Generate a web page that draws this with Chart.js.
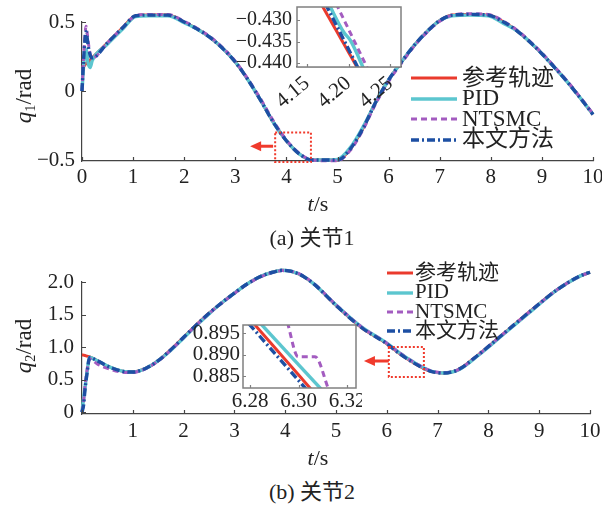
<!DOCTYPE html>
<html><head><meta charset="utf-8">
<script src="https://cdn.jsdelivr.net/npm/chart.js@4.4.1/dist/chart.umd.min.js"></script>
<style>
body{margin:0;background:#fff;width:602px;height:505px;position:relative;overflow:hidden;font-family:"Liberation Serif","Noto Sans CJK SC",serif;color:#222}
.cv{position:absolute}
.lbl{position:absolute;white-space:nowrap;line-height:1}
.rot{transform:translate(-50%,-50%) rotate(-90deg)}
.ctr{transform:translate(-50%,-50%)}
sub{font-size:0.62em;vertical-align:baseline;position:relative;top:0.28em}
.leg{position:absolute;white-space:nowrap;line-height:1}
.pre{position:absolute;left:-200px;top:-200px;font-size:21px}
</style></head><body>
<span class="pre">0.5 −0.430 6.28</span>
<canvas id="c1" class="cv" style="left:0;top:0" width="602" height="195"></canvas>
<canvas id="c2" class="cv" style="left:0;top:250px" width="602" height="195"></canvas>
<canvas id="i1" class="cv" style="left:217px;top:0" width="190" height="115"></canvas>
<canvas id="i2" class="cv" style="left:183px;top:315px" width="179" height="95"></canvas>
<div class="lbl rot" style="left:23px;top:96px;font-size:23px"><i>q</i><sub>1</sub>/rad</div>
<div class="lbl rot" style="left:23px;top:346px;font-size:23px"><i>q</i><sub>2</sub>/rad</div>
<div class="lbl ctr" style="left:318px;top:204px;font-size:22px"><i>t</i>/s</div>
<div class="lbl ctr" style="left:318px;top:458px;font-size:22px"><i>t</i>/s</div>
<div class="lbl ctr" style="left:312px;top:238px;font-size:22px">(a) 关节1</div>
<div class="lbl ctr" style="left:312px;top:492px;font-size:22px">(b) 关节2</div>
<div id="leg1"></div><div id="leg2"></div>
<script>
// ---------- data ----------
const seriesNames = ['参考轨迹', 'PID', 'NTSMC', '本文方法'];

// joint 1 (time in s, angle in rad)
const t1 = [0, 0.04, 0.08, 0.12, 0.16, 0.2, 0.5, 0.8, 1.05, 1.3, 1.68, 2.0, 2.25, 2.5, 2.75, 3.0, 3.25, 3.5, 3.75, 4.0, 4.25, 4.5, 4.75, 5.0, 5.25, 5.5, 5.75, 6.0, 6.25, 6.5, 6.75, 7.0, 7.25, 7.6, 7.95, 8.25, 8.5, 8.75, 9.0, 9.25, 9.5, 9.75, 10];
const q1Ref   = [0.17, 0.18, 0.20, 0.21, 0.225, 0.24, 0.35, 0.46, 0.545, 0.55, 0.55, 0.50, 0.45, 0.39, 0.31, 0.21, 0.08, -0.07, -0.23, -0.36, -0.455, -0.50, -0.50, -0.50, -0.42, -0.27, -0.08, 0.08, 0.21, 0.33, 0.43, 0.51, 0.55, 0.555, 0.55, 0.50, 0.44, 0.36, 0.27, 0.17, 0.065, -0.05, -0.17];
const q1Pid   = [0.0, 0.22, 0.30, 0.20, 0.17, 0.22, 0.34, 0.45, 0.54, 0.545, 0.545, 0.495, 0.45, 0.39, 0.31, 0.21, 0.08, -0.07, -0.23, -0.36, -0.455, -0.50, -0.50, -0.495, -0.41, -0.26, -0.08, 0.08, 0.21, 0.33, 0.43, 0.51, 0.545, 0.55, 0.545, 0.49, 0.44, 0.36, 0.27, 0.17, 0.065, -0.05, -0.17];
const q1Ntsmc = [0.0, 0.30, 0.47, 0.36, 0.27, 0.24, 0.35, 0.46, 0.545, 0.555, 0.555, 0.505, 0.455, 0.395, 0.315, 0.215, 0.085, -0.06, -0.22, -0.355, -0.45, -0.50, -0.505, -0.505, -0.43, -0.28, -0.09, 0.07, 0.20, 0.325, 0.425, 0.505, 0.55, 0.56, 0.555, 0.505, 0.445, 0.365, 0.275, 0.175, 0.07, -0.045, -0.165];
const q1Ours  = [0.0, 0.28, 0.43, 0.33, 0.26, 0.24, 0.35, 0.46, 0.545, 0.55, 0.55, 0.50, 0.45, 0.39, 0.31, 0.21, 0.08, -0.07, -0.23, -0.36, -0.455, -0.50, -0.50, -0.50, -0.42, -0.27, -0.08, 0.08, 0.21, 0.33, 0.43, 0.51, 0.55, 0.555, 0.55, 0.50, 0.44, 0.36, 0.27, 0.17, 0.065, -0.05, -0.17];

// joint 2
const t2 = [0, 0.03, 0.06, 0.1, 0.15, 0.3, 0.55, 0.85, 1.0, 1.25, 1.5, 1.75, 2.0, 2.25, 2.5, 2.75, 3.0, 3.25, 3.5, 3.75, 3.95, 4.25, 4.55, 5.0, 5.5, 6.0, 6.25, 6.5, 6.85, 7.1, 7.4, 7.8, 8.35, 8.9, 9.35, 9.8, 10];
const q2Ref   = [0.88, 0.875, 0.87, 0.86, 0.85, 0.79, 0.69, 0.62, 0.615, 0.67, 0.79, 0.96, 1.15, 1.34, 1.52, 1.68, 1.83, 1.97, 2.08, 2.15, 2.18, 2.13, 1.98, 1.64, 1.30, 1.05, 0.90, 0.77, 0.63, 0.60, 0.65, 0.88, 1.24, 1.60, 1.88, 2.09, 2.15];
const q2Pid   = [0.0, 0.20, 0.38, 0.62, 0.84, 0.79, 0.69, 0.62, 0.615, 0.67, 0.79, 0.95, 1.14, 1.33, 1.51, 1.68, 1.83, 1.97, 2.08, 2.15, 2.18, 2.13, 1.98, 1.645, 1.31, 1.06, 0.91, 0.78, 0.635, 0.60, 0.645, 0.87, 1.23, 1.59, 1.88, 2.09, 2.15];
const q2Ntsmc = [0.0, 0.15, 0.40, 0.65, 0.82, 0.74, 0.66, 0.61, 0.61, 0.665, 0.785, 0.955, 1.145, 1.335, 1.515, 1.675, 1.825, 1.965, 2.075, 2.145, 2.175, 2.135, 1.985, 1.65, 1.31, 1.06, 0.91, 0.78, 0.64, 0.605, 0.65, 0.88, 1.24, 1.60, 1.88, 2.09, 2.15];
const q2Ours  = [0.0, 0.10, 0.35, 0.60, 0.84, 0.79, 0.69, 0.62, 0.615, 0.67, 0.79, 0.96, 1.15, 1.34, 1.52, 1.68, 1.83, 1.97, 2.08, 2.15, 2.18, 2.13, 1.98, 1.64, 1.30, 1.05, 0.90, 0.77, 0.63, 0.60, 0.65, 0.88, 1.24, 1.60, 1.88, 2.09, 2.15];

// inset 1 (zoom of joint 1 near t = 4.2 s)
const in1RefT = [4.165, 4.213],           in1RefQ = [-0.4256, -0.4419];
const in1PidT = [4.176, 4.194, 4.202, 4.220], in1PidQ = [-0.4262, -0.4328, -0.4347, -0.4421];
const in1NtsmcT = [4.185, 4.225],         in1NtsmcQ = [-0.4262, -0.4421];
const in1OursT = [4.172, 4.214],          in1OursQ = [-0.4262, -0.4421];

// inset 2 (zoom of joint 2 near t = 6.3 s)
const in2RefT = [6.2816, 6.3052],         in2RefQ = [0.8972, 0.8819];
const in2PidT = [6.2844, 6.3094],         in2PidQ = [0.8972, 0.8819];
const in2NtsmcT = [6.2954, 6.2998, 6.3068, 6.3124], in2NtsmcQ = [0.8975, 0.8895, 0.8895, 0.8819];
const in2OursT = [6.2795, 6.3032],        in2OursQ = [0.8972, 0.8819];

// tick labels
const x1Ticks = [0,1,2,3,4,5,6,7,8,9,10];
const y1Ticks = [-0.5, 0, 0.5];
const x2Ticks = [0,1,2,3,4,5,6,7,8,9,10];
const y2Ticks = [0, 0.5, 1.0, 1.5, 2.0];
const xi1Ticks = [4.15, 4.20, 4.25];
const yi1Ticks = [-0.440, -0.435, -0.430];
const xi2Ticks = [6.28, 6.30, 6.32];
const yi2Ticks = [0.885, 0.890, 0.895];

// ---------- styles ----------
const FONT = '"Liberation Serif", serif';
const styles = [
  {color:'#ea3a2d', width:3, dash:[], order:4},
  {color:'#5cc6cf', width:3.4, dash:[], order:3},
  {color:'#a35cc0', width:3, dash:[6,4], order:2},
  {color:'#1d4fa3', width:3.4, dash:[8,3,2,3], order:1}
];
const minus = s => s.replace('-', '\u2212');

function pts(ts, vs){ return ts.map((t,i)=>({x:t, y:vs[i]})); }
function ds(i, data, clip){
  const s = styles[i];
  return {label:seriesNames[i], data, borderColor:s.color, backgroundColor:s.color, borderWidth:s.width,
    borderDash:s.dash, order:s.order, pointRadius:0, fill:false, cubicInterpolationMode:'monotone',
    clip: clip};
}
function scale(o){
  return {
    type:'linear', min:o.min, max:o.max,
    grid:{display:true, drawOnChartArea:false, drawTicks:false},
    border:{display:!o.noBorder, color:'#444', width:1.2},
    ticks:{color:'#222', font:{family:FONT, size:o.size}, padding:o.pad, autoSkip:false,
      maxRotation:o.rot||0, minRotation:o.rot||0, callback:o.fmt},
    afterBuildTicks:(s)=>{ s.ticks = o.ticks.map(v=>({value:v})); },
    afterFit:(s)=>{ if(o.isX) s.height=o.fix; else s.width=o.fix;
      s.paddingLeft=0; s.paddingRight=0; s.paddingTop=0; s.paddingBottom=0; }
  };
}
const inTicks = {
  id:'inTicks',
  afterDraw(chart, args, o){
    const ctx=chart.ctx, a=chart.chartArea, xs=chart.scales.x, ys=chart.scales.y, L=o.len||4;
    ctx.save(); ctx.strokeStyle=o.color||'#444'; ctx.lineWidth=1.2; ctx.beginPath();
    xs.ticks.forEach(t=>{const p=Math.round(xs.getPixelForValue(t.value))+0.5; ctx.moveTo(p,a.bottom); ctx.lineTo(p,a.bottom-L);});
    ys.ticks.forEach(t=>{const p=Math.round(ys.getPixelForValue(t.value))+0.5; ctx.moveTo(a.left,p); ctx.lineTo(a.left+L,p);});
    ctx.stroke(); ctx.restore();
  }
};
const boxPlug = {
  id:'boxPlug',
  beforeDatasetsDraw(chart, args, o){ if(!o.on) return; const a=chart.chartArea, c=chart.ctx;
    c.save(); c.fillStyle='#fff'; c.fillRect(a.left,a.top,a.right-a.left,a.bottom-a.top); c.restore(); },
  afterDraw(chart, args, o){ if(!o.on) return; const a=chart.chartArea, c=chart.ctx;
    c.save(); c.strokeStyle='#808080'; c.lineWidth=1.5; c.strokeRect(a.left,a.top,a.right-a.left,a.bottom-a.top); c.restore(); }
};
const marks = {
  id:'marks',
  afterDraw(chart, args, o){
    if(!o.box) return;
    const c=chart.ctx, xs=chart.scales.x, ys=chart.scales.y;
    const x0=xs.getPixelForValue(o.box[0]), x1=xs.getPixelForValue(o.box[1]);
    const y0=ys.getPixelForValue(o.box[2]), y1=ys.getPixelForValue(o.box[3]);
    c.save(); c.strokeStyle='#f03a2c'; c.fillStyle='#f03a2c';
    c.setLineDash([2,2]); c.lineWidth=2; c.strokeRect(x0,y1,x1-x0,y0-y1);
    const ax0=xs.getPixelForValue(o.arrow[0]), ax1=xs.getPixelForValue(o.arrow[1]), ay=ys.getPixelForValue(o.arrow[2]);
    c.setLineDash([]); c.lineWidth=3; c.beginPath(); c.moveTo(ax0,ay); c.lineTo(ax1+8,ay); c.stroke();
    c.beginPath(); c.moveTo(ax1,ay); c.lineTo(ax1+11,ay-5); c.lineTo(ax1+11,ay+5); c.closePath(); c.fill();
    c.restore();
  }
};
function makeChart(id, datasets, xs, ys, plugOpts, padding){
  return new Chart(document.getElementById(id), {
    type:'line',
    data:{datasets},
    options:{responsive:false, animation:false, devicePixelRatio:1,
      layout:{padding},
      scales:{x:xs, y:ys},
      plugins:Object.assign({legend:{display:false}, tooltip:{enabled:false}}, plugOpts)},
    plugins:[inTicks, boxPlug, marks]
  });
}
const fmt1 = v => v===0 ? '0' : minus(v.toFixed(1));
const fmtY2 = v => v===0 ? '0' : v.toFixed(1);
const clip0 = {left:0, top:0, right:0, bottom:0};

function drawAll(){
  Chart.defaults.font.family = FONT;
  // chart 1
  makeChart('c1', [
    ds(0, pts(t1,q1Ref), false), ds(1, pts(t1,q1Pid), false), ds(2, pts(t1,q1Ntsmc), false), ds(3, pts(t1,q1Ours), false)],
    scale({min:0, max:10, ticks:x1Ticks, isX:true, fix:34, size:21, pad:4, fmt:v=>String(v)}),
    scale({min:-0.507, max:0.5, ticks:y1Ticks, fix:82, size:21, pad:7, fmt:fmt1}),
    {inTicks:{len:4}, boxPlug:{on:false}, marks:{box:[3.78,4.48,-0.515,-0.30], arrow:[3.74,3.29,-0.40]}},
    {top:22, right:9, left:0, bottom:0});

  // chart 2
  makeChart('c2', [
    ds(0, pts(t2,q2Ref), false), ds(1, pts(t2,q2Pid), false), ds(2, pts(t2,q2Ntsmc), false), ds(3, pts(t2,q2Ours), false)],
    scale({min:0, max:10, ticks:x2Ticks, isX:true, fix:31, size:21, pad:5, fmt:v=>v===0?'':String(v)}),
    scale({min:-0.03, max:2.0, ticks:y2Ticks, fix:82, size:21, pad:8, fmt:fmtY2}),
    {inTicks:{len:4}, boxPlug:{on:false}, marks:{box:[6.04,6.73,0.54,1.0], arrow:[6.04,5.55,0.785]}},
    {top:32, right:12, left:0, bottom:0});

  // inset 1
  makeChart('i1', [
    ds(0, pts(in1RefT,in1RefQ), clip0), ds(1, pts(in1PidT,in1PidQ), clip0), ds(2, pts(in1NtsmcT,in1NtsmcQ), clip0), ds(3, pts(in1OursT,in1OursQ), clip0)],
    scale({min:4.138, max:4.263, ticks:xi1Ticks, isX:true, fix:48, size:21, pad:4, rot:40, fmt:v=>v.toFixed(2)}),
    scale({min:-0.4409, max:-0.427, ticks:yi1Ticks, fix:80, size:20, pad:5, fmt:v=>minus(v.toFixed(3)), noBorder:true}),
    {inTicks:{len:3, color:'#808080'}, boxPlug:{on:true}, marks:{}},
    {top:7, right:6, left:0, bottom:0});

  // inset 2
  makeChart('i2', [
    ds(0, pts(in2RefT,in2RefQ), clip0), ds(1, pts(in2PidT,in2PidQ), clip0), ds(2, pts(in2NtsmcT,in2NtsmcQ), clip0), ds(3, pts(in2OursT,in2OursQ), clip0)],
    scale({min:6.2771, max:6.3237, ticks:xi2Ticks, isX:true, fix:22, size:21, pad:1, fmt:v=>v.toFixed(2), noBorder:true}),
    scale({min:0.8822, max:0.8969, ticks:yi2Ticks, fix:60, size:21, pad:3, fmt:v=>v.toFixed(3), noBorder:true}),
    {inTicks:{len:3, color:'#808080'}, boxPlug:{on:true}, marks:{}},
    {top:10, right:6, left:0, bottom:0});
}

// legends (HTML)
function legend(el, x0, x1, tx, ys, size){
  let h='';
  seriesNames.forEach((n,i)=>{
    const s=styles[i];
    h += `<svg style="position:absolute;left:${x0}px;top:${ys[i]-3}px" width="${x1-x0}" height="6"><line x1="0" y1="3" x2="${x1-x0}" y2="3" stroke="${s.color}" stroke-width="${s.width}" stroke-dasharray="${s.dash.join(',')}"/></svg>`;
    h += `<div class="leg" style="left:${tx}px;top:${ys[i]-size/2-1}px;font-size:${size}px;height:${size}px">${n}</div>`;
  });
  el.innerHTML=h;
}
legend(document.getElementById('leg1'), 411, 457, 462, [78, 98.5, 119, 139.5], 23);
legend(document.getElementById('leg2'), 387, 413, 415, [273, 292.5, 312, 331], 21);

let done = false;
function go(){ if(done) return; done = true; drawAll(); }
if (document.fonts && document.fonts.load) {
  document.fonts.load('21px "Liberation Serif"').then(go, go);
  setTimeout(go, 400);
} else { go(); }
</script>
</body></html>
